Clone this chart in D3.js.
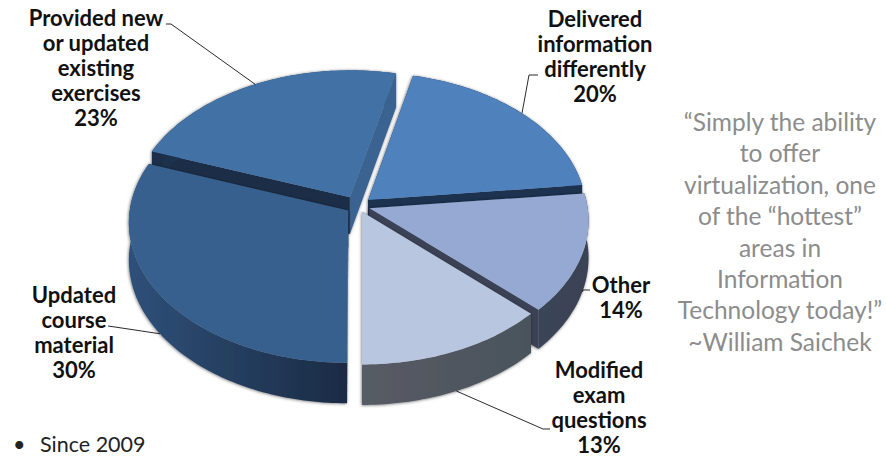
<!DOCTYPE html>
<html>
<head>
<meta charset="utf-8">
<script src="https://cdn.jsdelivr.net/npm/d3@7"></script>
<style>
  html, body { margin:0; padding:0; background:#fff; }
  text { font-family:Lato, "Open Sans", sans-serif; }
  .label { font-weight:700; font-size:22px; fill:#111; text-anchor:middle; }
  .quote { font-size:24.5px; fill:#8c8c8c; text-anchor:middle; }
  .note { font-size:21.5px; fill:#222; }
</style>
</head>
<body>
<svg id="chart" width="886" height="457"></svg>
<script>
// pie runs clockwise from "Provided..", this is also the painting order
const categories = [
  ['Provided new','or updated','existing','exercises'],
  ['Delivered','information','differently'],
  ['Other'],
  ['Modified','exam','questions'],
  ['Updated','course','material']
];
const values = [23, 20, 14, 13, 30];
const explode = [16, 14, 12, 10, 12];
const quoteLines = ['“Simply the ability','to offer','virtualization, one','of the “hottest”','areas in','Information','Technology today!”','~William Saichek'];

const topColors = ['#4371a6','#4f81bd','#95a9d2','#b9c6e0','#38618e'];
const wallLeft = ['#1b2d47','#1b3050','#3b4458','#575b65','#2f5079'];
const wallRight = ['#3a6491','#1b3050','#3a4356','#4a535c','#1a2b44'];
const startWall = ['#1b2d47','#1b2d47','#3b4458','#4a535c','#1a2b44'];
const endWall = ['#3a6491','#1b3050','#3a4356','#4a535c','#1a2b44'];

// where the labels sit: text centre, first baseline, elbow of the leader
const labelX = [96, 595, 621, 599, 74];
const labelY = [26, 27, 293, 377.5, 303];
const elbows = [[[166,24],[171,24]], [[538,75],[529,75]], [[590,290],[583,290]], [[550,429],[543,429]], [[108,326],[115,327]]];

const cx = 358, cy = 206, R = 218, tilt = 0.637, persp = 0.083, depth = 37;
// the view is turned a little, back left of the rim leans clockwise
const lean = 2.5 * Math.PI / 180, leanAt = 340 * Math.PI / 180;

// disk coordinates (X right, Y to the back) -> screen
function project(X, Y, down) {
  let s = 1 / (1 + persp * Y / R);
  return [cx + X * s, cy - Y * tilt * s + (down ? depth * s : 0)];
}

const pie = d3.pie().sort(null).startAngle(288 * Math.PI / 180).endAngle(648 * Math.PI / 180);
const arcs = pie(values);
const line = d3.line();

const svg = d3.select('#chart');
const defs = svg.append('defs');
const shadow = defs.append('filter').attr('id','soft').attr('x','-10%').attr('y','-10%').attr('width','120%').attr('height','120%');
shadow.append('feDropShadow').attr('dx',-0.5).attr('dy',0.5).attr('stdDeviation',1.4).attr('flood-color','#000').attr('flood-opacity',0.55);

function rimPoint(i, mid, a, down) {
  let ox = explode[i] * Math.sin(mid), oy = explode[i] * Math.cos(mid);
  let b = a + lean * (1 + Math.cos(a - leanAt)) / 2;
  return project(ox + R * Math.sin(b), oy + R * Math.cos(b), down);
}

arcs.forEach(function(d, i){
  let mid = (d.startAngle + d.endAngle) / 2;
  let ox = explode[i] * Math.sin(mid), oy = explode[i] * Math.cos(mid);
  let onRim = function(a, down){ return rimPoint(i, mid, a, down); };
  let apex = function(down){ return project(ox, oy, down); };
  let angles = d3.range(d.startAngle, d.endAngle, 0.02).concat([d.endAngle]);

  let gradId = 'wall' + i;
  let grad = defs.append('linearGradient').attr('id',gradId).attr('gradientUnits','userSpaceOnUse')
    .attr('x1',d3.min(angles, a => onRim(a)[0])).attr('x2',d3.max(angles, a => onRim(a)[0])).attr('y1',0).attr('y2',0);
  grad.append('stop').attr('offset','0%').attr('stop-color',wallLeft[i]);
  grad.append('stop').attr('offset','100%').attr('stop-color',wallRight[i]);

  let g = svg.append('g').attr('filter','url(#soft)');
  // cut faces first, top face paints over the hidden ones
  g.append('path').attr('fill',startWall[i])
    .attr('d',line([apex(false), onRim(d.startAngle,false), onRim(d.startAngle,true), apex(true)])+'Z');
  g.append('path').attr('fill',endWall[i])
    .attr('d',line([apex(false), onRim(d.endAngle,false), onRim(d.endAngle,true), apex(true)])+'Z');
  g.append('path').attr('fill','url(#'+gradId+')')
    .attr('d',line(angles.map(a => onRim(a,false)).concat(angles.slice().reverse().map(a => onRim(a,true))))+'Z');
  g.append('path').attr('fill',topColors[i])
    .attr('d',line([apex(false)].concat(angles.map(a => onRim(a,false))))+'Z');
});

// leaders, anchored on each slice's mid angle
arcs.forEach(function(d, i){
  let mid = (d.startAngle + d.endAngle) / 2;
  let anchor = rimPoint(i, mid, mid, Math.cos(mid) < 0);
  svg.append('path').attr('fill','none').attr('stroke','#111').attr('stroke-width',0.9)
    .attr('d',line(elbows[i].concat([anchor])));

  let lines = categories[i].concat([values[i] + '%']);
  let t = svg.append('text').attr('class','label');
  lines.forEach(function(s, j){
    t.append('tspan').attr('x',labelX[i]).attr('y',labelY[i] + j * 25).text(s);
  });
});

let q = svg.append('text').attr('class','quote');
quoteLines.forEach(function(s, j){
  q.append('tspan').attr('x',780).attr('y',131 + j * 31.4).text(s);
});

svg.append('text').attr('class','note').attr('x',13).attr('y',452).text('•');
svg.append('text').attr('class','note').attr('x',40).attr('y',452).text('Since 2009');
</script>
</body>
</html>
